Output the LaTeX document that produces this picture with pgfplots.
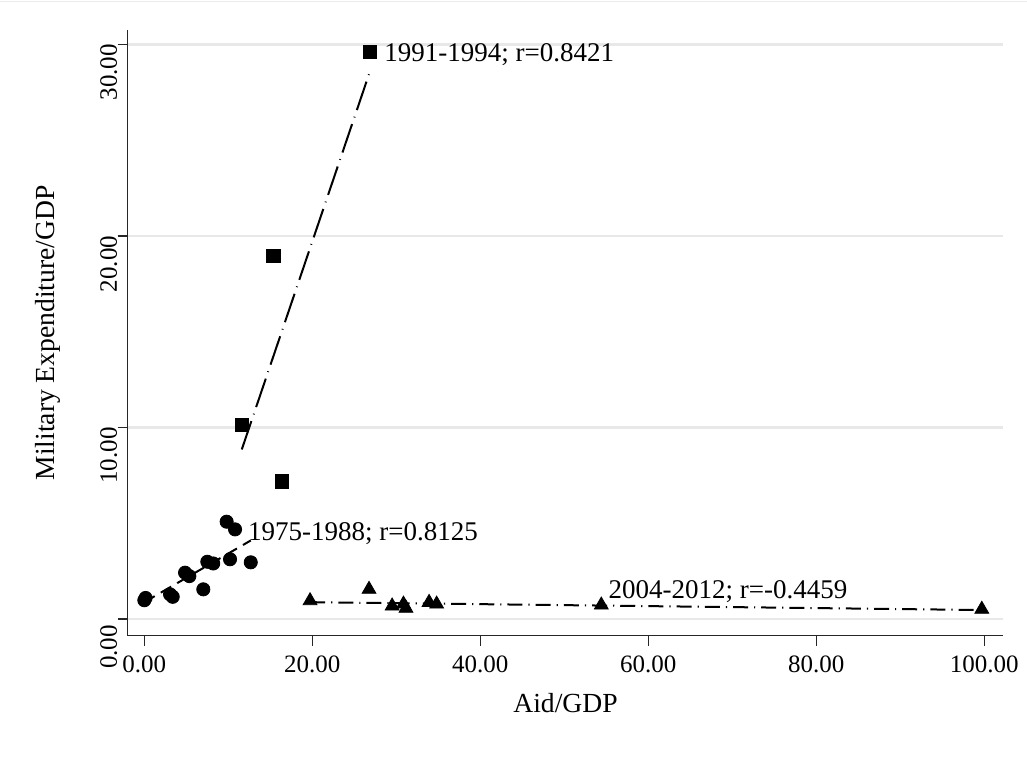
\documentclass[border=0pt]{standalone}
\usepackage{fontspec}
\setmainfont{Liberation Serif}
\usepackage{pgfplots}
\pgfplotsset{compat=1.18}

\definecolor{gridgray}{HTML}{E8E8E8}
\definecolor{framegray}{HTML}{EBEBEB}

\begin{document}
\begin{tikzpicture}
\begin{axis}[
    at={(0,0)}, anchor=south west,
    scale only axis,
    width=437.8pt, height=302.85pt,
    xmin=-1.98, xmax=102.26,
    ymin=-0.87, ymax=30.75,
    axis lines=left,
    axis line style={-, line width=0.75pt, black!85},
    tick align=outside,
    major tick length=5pt,
    tick style={line width=0.75pt, black!85},
    xtick={0,20,40,60,80,100},
    ytick={0,10,20,30},
    ymajorgrids,
    grid style={line width=1.2pt, gridgray},
    font=\fontsize{12.5}{15}\selectfont,
    /pgf/number format/.cd, fixed, fixed zerofill, precision=2, assume math mode=true,
    /pgfplots/.cd,
    xticklabel style={inner sep=0pt, yshift=-5pt},
    yticklabel style={rotate=90, anchor=south, inner sep=0pt, xshift=-14pt},
    xlabel={Aid/GDP},
    ylabel={Military Expenditure/GDP},
    label style={font=\fontsize{13.8}{16}\selectfont},
    xlabel style={at={(axis description cs:0.5,-0.111)}, anchor=center},
    ylabel style={at={(axis description cs:-0.091,0.5)}, anchor=center, rotate=0},
    clip=false,
]

% 1975-1988
\addplot[only marks, mark=*, mark size=3.3pt, black] coordinates {
    (0.0,0.98) (0.15,1.1) (3.06,1.29) (3.38,1.16) (4.85,2.42) (5.36,2.24)
    (7.02,1.55) (7.5,2.99) (8.2,2.9) (10.2,3.12) (12.67,2.96) (9.8,5.08) (10.8,4.68)
};
\addplot[black, line width=1pt, dash pattern=on 6pt off 3.5pt] coordinates {
    (0,0.88) (12.67,4.1)
};

% 1991-1994
\addplot[only marks, mark=square*, mark size=3.4pt, black] coordinates {
    (11.6,10.14) (15.36,18.95) (16.4,7.2) (26.87,29.61)
};
\addplot[black, line width=1pt, dash pattern=on 15pt off 3.5pt on 0.4pt off 3.5pt] coordinates {
    (11.6,8.85) (26.87,28.6)
};

% 2004-2012
\addplot[only marks, mark=triangle*, mark size=4pt, black] coordinates {
    (19.73,0.955) (26.75,1.55) (29.5,0.68) (30.85,0.78) (31.15,0.56)
    (33.9,0.87) (34.8,0.78) (54.4,0.73) (99.7,0.51)
};
\addplot[black, line width=1pt, dash pattern=on 7.5pt off 3pt on 0.6pt off 3pt] coordinates {
    (19.73,0.88) (99.7,0.47)
};

\begin{scope}[every node/.style={anchor=base west, inner sep=0pt, font=\fontsize{13.5}{16}\selectfont}]
\node at (axis cs:28.54,29.09) {1991-1994; r=0.8421};
\node at (axis cs:12.31,4.12) {1975-1988; r=0.8125};
\node at (axis cs:55.24,1.08) {2004-2012; r=-0.4459};
\end{scope}
\end{axis}
\useasboundingbox (-63.85pt,-61.15pt) rectangle (449.65pt,317.85pt);
\draw[framegray, line width=0.8pt] (-63.85pt,317.1pt) -- (449.65pt,317.1pt);
\end{tikzpicture}
\end{document}
